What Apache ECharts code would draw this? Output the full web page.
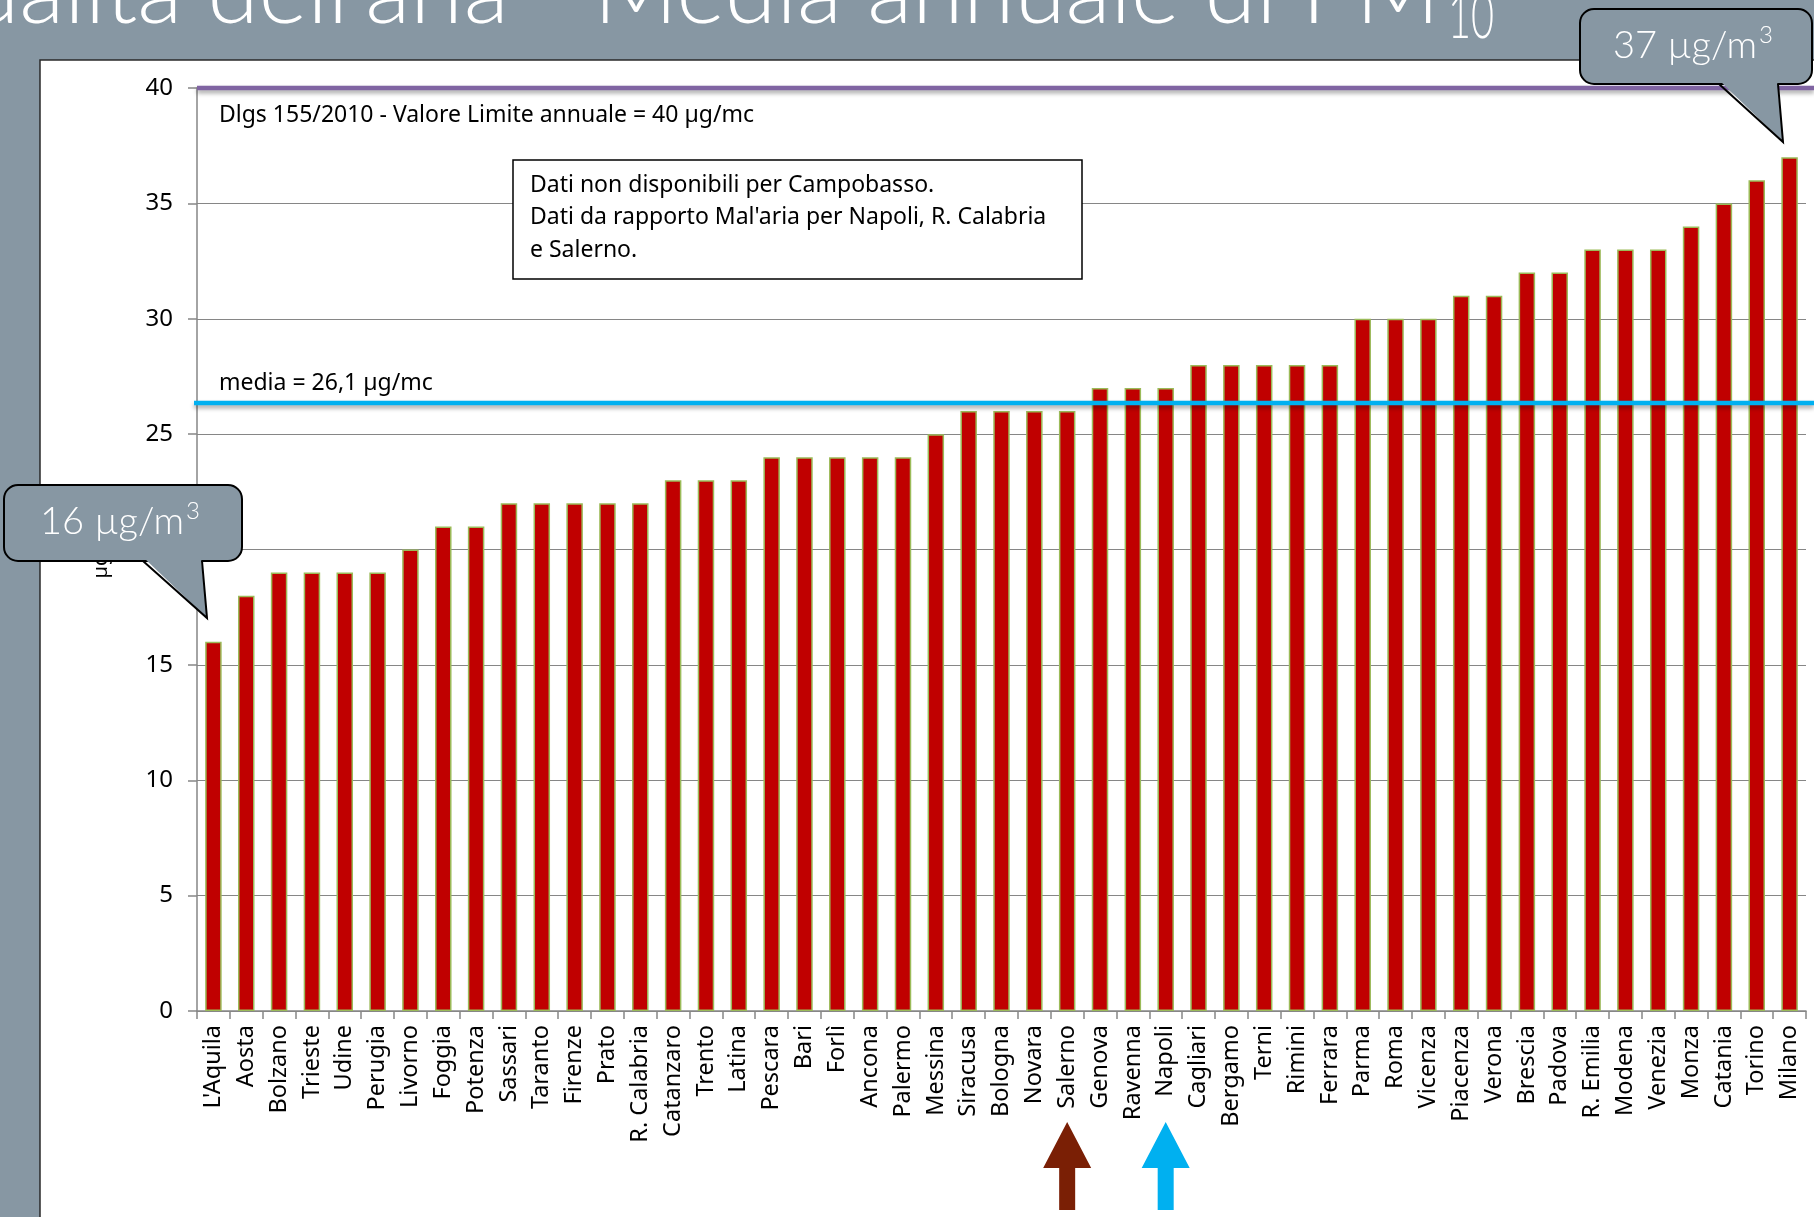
<!DOCTYPE html>
<html><head><meta charset="utf-8">
<script src="https://cdn.jsdelivr.net/npm/echarts@6/dist/echarts.min.js"></script>
<style>html,body{margin:0;padding:0;background:#8797a3;overflow:hidden}#c{width:1814px;height:1217px}</style>
</head><body><div id="c"></div>
<script>
// ---- data ----
const cities = ["L'Aquila","Aosta","Bolzano","Trieste","Udine","Perugia","Livorno","Foggia","Potenza","Sassari","Taranto","Firenze","Prato","R. Calabria","Catanzaro","Trento","Latina","Pescara","Bari","Forlì","Ancona","Palermo","Messina","Siracusa","Bologna","Novara","Salerno","Genova","Ravenna","Napoli","Cagliari","Bergamo","Terni","Rimini","Ferrara","Parma","Roma","Vicenza","Piacenza","Verona","Brescia","Padova","R. Emilia","Modena","Venezia","Monza","Catania","Torino","Milano"];
const pm10 = [16,18,19,19,19,19,20,21,21,22,22,22,22,22,23,23,23,24,24,24,24,24,25,26,26,26,26,27,27,27,28,28,28,28,28,30,30,30,31,31,32,32,33,33,33,34,35,36,37];
const yMin = 0, yMax = 40, yStep = 5;
const limitValue = 40;          // purple line
const mediaLineLevel = 26.35;   // blue line as drawn
const titleText = "Qualità dell'aria - Media annuale di PM";
const titleSub = "10";
const yName = "µg/m³";
const limitLabel = "Dlgs 155/2010 - Valore Limite annuale = 40 µg/mc";
const mediaLabel = "media = 26,1 µg/mc";
const noteLines = ["Dati non disponibili per Campobasso.","Dati da rapporto Mal'aria per Napoli, R. Calabria","e Salerno."];
const arrowCities = ["Salerno","Napoli"];
const arrowColors = ["#7a1f05","#00b0f0"];

const chart = echarts.init(document.getElementById('c'), null, {renderer:'canvas'});
const axisGray = '#868686';
chart.setOption({
  backgroundColor: '#8797a3',
  animation: false,
  grid: {left:197, right:8, top:88, bottom:206, containLabel:false},
  xAxis: {
    type:'category', data: cities,
    axisLine:{lineStyle:{color:axisGray, width:1.5}},
    axisTick:{show:true, length:8, lineStyle:{color:axisGray, width:1.5}},
    axisLabel:{rotate:90, interval:0, fontSize:23.5, color:'#000', fontFamily:'Noto Sans', margin:14}
  },
  yAxis: {
    type:'value', min:yMin, max:yMax, interval:yStep,
    name: yName, nameLocation:'middle', nameRotate:90, nameGap:86,
    nameTextStyle:{fontSize:20, color:'#000', fontFamily:'Noto Sans'},
    axisLine:{show:true, lineStyle:{color:axisGray, width:1.5}},
    axisTick:{show:true, length:9, lineStyle:{color:axisGray, width:1.5}},
    splitLine:{lineStyle:{color:axisGray, width:1.2}},
    axisLabel:{fontSize:24, color:'#000', fontFamily:'Noto Sans', margin:24}
  },
  series: [{
    type:'bar', data: pm10, barWidth:16.5,
    itemStyle:{color:'#c00000', borderColor:'#9bbb59', borderWidth:1.5},
    z:2
  }]
});

const measureCtx = document.createElement('canvas').getContext('2d');
function textW(t, font){ measureCtx.font = font; return measureCtx.measureText(t).width; }

const yLimit = chart.convertToPixel({yAxisIndex:0}, limitValue);
const yMedia = chart.convertToPixel({yAxisIndex:0}, mediaLineLevel);
const plotLeft = chart.convertToPixel({xAxisIndex:0}, cities[0]) - 16.4;
const txtFont = '23px "Noto Sans"';
const g = [];
// white panel
g.push({type:'rect', z:-100, shape:{x:40,y:60,width:1800,height:1200}, style:{fill:'#fff', stroke:'#2a2a2a', lineWidth:1.5}});
// title (cut off at top)
g.push({type:'text', z:50, x:1440, y:38, originX:0, originY:-16, scaleX:1.12, scaleY:1.1, style:{text:titleText, font:'300 83px Lato', fill:'#fff', textAlign:'right', textVerticalAlign:'bottom'}});
g.push({type:'text', z:50, x:1448, y:49, scaleX:0.62, style:{text:titleSub, font:'300 64px Lato', fill:'#fff', textAlign:'left', textVerticalAlign:'bottom'}});
// lines
g.push({type:'line', z:20, shape:{x1:plotLeft, y1:yLimit, x2:1814, y2:yLimit}, style:{stroke:'#8064a2', lineWidth:4.5, shadowBlur:4, shadowOffsetY:3, shadowColor:'rgba(0,0,0,0.35)'}});
g.push({type:'line', z:20, shape:{x1:plotLeft-3, y1:yMedia, x2:1814, y2:yMedia}, style:{stroke:'#00b0f0', lineWidth:4.5, shadowBlur:4, shadowOffsetY:3, shadowColor:'rgba(0,0,0,0.35)'}});
g.push({type:'text', z:30, x:219, y:yLimit+27, style:{text:limitLabel, font:txtFont, fill:'#000', textVerticalAlign:'middle'}});
g.push({type:'text', z:30, x:219, y:yMedia-20, style:{text:mediaLabel, font:txtFont, fill:'#000', textVerticalAlign:'middle'}});
// note box
g.push({type:'rect', z:30, shape:{x:513,y:160,width:569,height:119}, style:{fill:'#fff', stroke:'#000', lineWidth:1.5}});
noteLines.forEach((t,i)=>g.push({type:'text', z:31, x:530, y:185+i*32.5, style:{text:t, font:txtFont, fill:'#000', textVerticalAlign:'middle'}}));
// arrows
arrowCities.forEach((c,i)=>{
  const cx = chart.convertToPixel({xAxisIndex:0}, c);
  g.push({type:'polygon', z:30, shape:{points:[[cx,1122],[cx+24,1168],[cx+8,1168],[cx+8,1210],[cx-8,1210],[cx-8,1168],[cx-24,1168]]}, style:{fill:arrowColors[i]}});
});
// callouts
function callout(x,y,w,h,tail,label){
  const fill='#8797a3';
  const f = '300 38px Lato';
  g.push({type:'rect', z:60, shape:{x:x,y:y,width:w,height:h,r:14}, style:{fill:fill, stroke:'#000', lineWidth:2}});
  g.push({type:'polygon', z:61, shape:{points:[[tail[0][0]+1,y+h-3],[tail[2][0],tail[2][1]],[tail[1][0]-1,y+h-3]]}, style:{fill:fill}});
  g.push({type:'polyline', z:62, shape:{points:[tail[0],tail[2],tail[1]]}, style:{stroke:'#000', lineWidth:2, fill:null}});
  g.push({type:'text', z:63, x:label.x, y:label.y, style:{text:label.t, font:f, fill:'#fff', textAlign:'left', textVerticalAlign:'middle'}});
  g.push({type:'text', z:63, x:label.x+textW(label.t, f)+2, y:label.y-11, style:{text:'3', font:'300 24px Lato', fill:'#fff', textAlign:'left', textVerticalAlign:'middle'}});
}
const minVal = Math.min(...pm10), maxVal = Math.max(...pm10);
callout(4,485,238,76,[[143,561],[202,561],[207,618]],{x:40,y:522,t:minVal+' µg/m'});
callout(1580,9,232,75,[[1719,84],[1778,84],[1783,142]],{x:1613,y:46,t:maxVal+' µg/m'});
chart.setOption({graphic: g});
</script></body></html>
